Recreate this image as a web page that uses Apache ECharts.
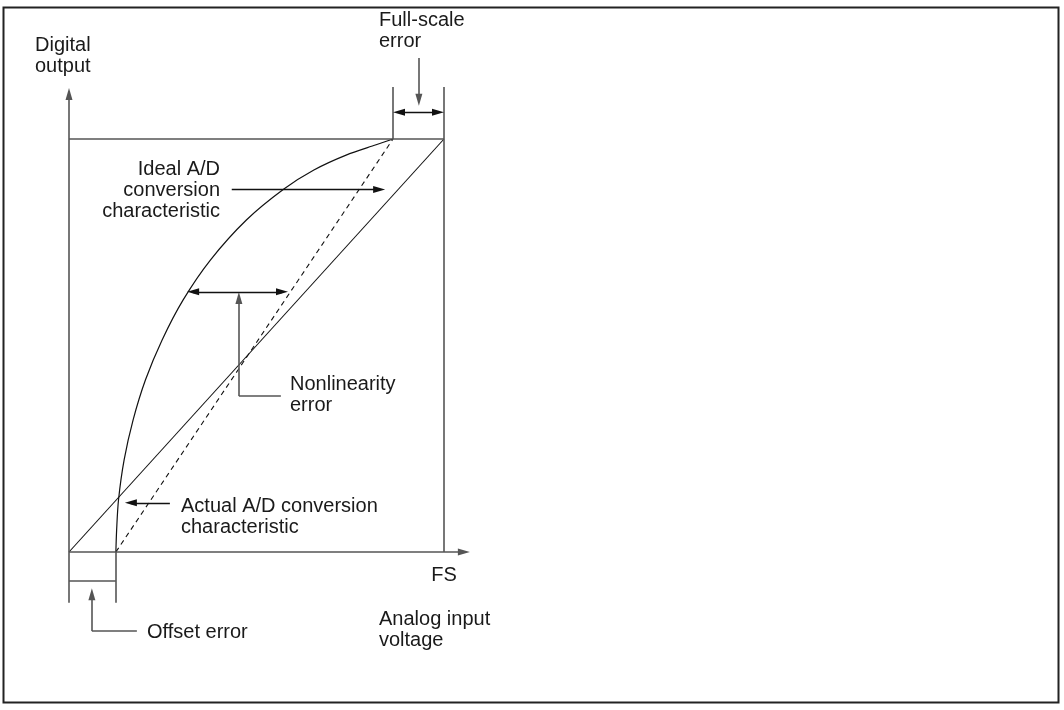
<!DOCTYPE html>
<html>
<head>
<meta charset="utf-8">
<script src="https://cdn.jsdelivr.net/npm/echarts@6/dist/echarts.min.js"></script>
<style>
html, body {margin: 0; padding: 0; background: #fff;}
#chart {width: 1064px; height: 710px;}
</style>
</head>
<body>
<div id="chart"></div>
<script>
// chart units: x = analog input (0..FS=100), y = digital output (0..100)
var curveX = [12.5, 12.7, 13.2, 14.7, 17.1, 20.4, 24.8, 30.4, 37.7, 47.3, 57.3, 65.3, 73.9, 81.9, 86.4];
var curveY = [0, 5.3, 12.6, 22.3, 32.0, 41.7, 51.3, 61.0, 70.7, 80.4, 87.9, 92.5, 96.1, 98.6, 100];
var idealX = [0, 100];
var idealY = [0, 100];
var dashX = [12.5, 86.4];
var dashY = [0, 100];

// segments: x1, y1, x2, y2, head at start, head at end
// (arrow heads are centred on the end point, so ends stop half a head short)
var graySegs = [
	[0, 0, 0, 110.9, 0, 1],
	[0, 0, 105.3, 0, 0, 1],
	[0, 100, 100, 100, 0, 0],
	[100, 0, 100, 112.6, 0, 0],
	[86.4, 100, 86.4, 112.6, 0, 0],
	[0, 0, 0, -12.3, 0, 0],
	[12.5, 0, 12.5, -12.3, 0, 0],
	[0, -7, 12.5, -7, 0, 0],
	[18.1, -19.1, 6.1, -19.1, 0, 0],
	[6.1, -19.1, 6.1, -10.2, 0, 1],
	[56.5, 37.8, 45.3, 37.8, 0, 0],
	[45.3, 37.8, 45.3, 61.5, 0, 1],
	[93.3, 119.6, 93.3, 109.5, 0, 1]
];
var blackSegs = [
	[88.0, 106.5, 98.4, 106.5, 1, 1],
	[43.4, 87.8, 82.7, 87.8, 0, 1],
	[33.1, 63, 56.8, 63, 1, 1],
	[26.9, 11.9, 16.5, 11.9, 0, 1]
];

var labels = [
	{text: 'Digital\noutput', x: 35, y: 34.5, align: 'left'},
	{text: 'Full-scale\nerror', x: 379, y: 9.5, align: 'left'},
	{text: 'Ideal A/D\nconversion\ncharacteristic', x: 220, y: 158.5, align: 'right'},
	{text: 'Nonlinearity\nerror', x: 290, y: 373.5, align: 'left'},
	{text: 'Actual A/D conversion\ncharacteristic', x: 181, y: 495.5, align: 'left'},
	{text: 'FS', x: 444, y: 564.5, align: 'center'},
	{text: 'Analog input\nvoltage', x: 379, y: 608.5, align: 'left'},
	{text: 'Offset error', x: 147, y: 621.5, align: 'left'}
];

var pairs = function(xs, ys) {
	var out = [];
	for (var i = 0; i < xs.length; i++) {
		out.push([xs[i], ys[i]]);
	}
	return out;
};
var toMark = function(s) {
	return [
		{coord: [s[0], s[1]], symbol: s[4] ? 'triangle' : 'none'},
		{coord: [s[2], s[3]], symbol: s[5] ? 'triangle' : 'none'}
	];
};
var markSeries = function(segs, color, width) {
	return {
		type: 'line',
		data: [],
		clip: false,
		silent: true,
		markLine: {
			silent: true,
			animation: false,
			symbolSize: [7, 12],
			label: {show: false},
			emphasis: {disabled: true},
			lineStyle: {color: color, width: width, type: 'solid'},
			itemStyle: {color: color},
			data: segs.map(toMark)
		}
	};
};
var plainLine = function(data, color, width, type, smooth) {
	return {
		type: 'line',
		data: data,
		smooth: smooth,
		symbol: 'none',
		clip: false,
		silent: true,
		lineStyle: {color: color, width: width, type: type}
	};
};

var graphics = [{
	type: 'rect',
	shape: {x: 3.5, y: 7.5, width: 1055, height: 695},
	style: {fill: 'none', stroke: '#222', lineWidth: 2}
}];
labels.forEach(function(l) {
	graphics.push({
		type: 'text',
		x: l.x,
		y: l.y,
		style: {
			text: l.text,
			font: '20px "Liberation Sans", Arial, sans-serif',
			fill: '#1a1a1a',
			align: l.align,
			verticalAlign: 'top',
			lineHeight: 21
		}
	});
});

// axis ranges are wider than 0..100 so the marks outside the frame are kept;
// grid is placed so that 0..100 lands on the frame (3.75 px and 4.13 px per unit)
var myChart = echarts.init(document.getElementById('chart'));
myChart.setOption({
	animation: false,
	grid: {left: 31.5, top: 15.1, width: 487.5, height: 660.8},
	xAxis: {type: 'value', min: -10, max: 120, show: false},
	yAxis: {type: 'value', min: -30, max: 130, show: false},
	series: [
		plainLine(pairs(idealX, idealY), '#111', 1.1, 'solid', false),
		plainLine(pairs(dashX, dashY), '#111', 1.1, [5, 4], false),
		plainLine(pairs(curveX, curveY), '#111', 1.2, 'solid', 0.3),
		markSeries(graySegs, '#555', 1.6),
		markSeries(blackSegs, '#111', 1.3)
	],
	graphic: graphics
});
</script>
</body>
</html>
